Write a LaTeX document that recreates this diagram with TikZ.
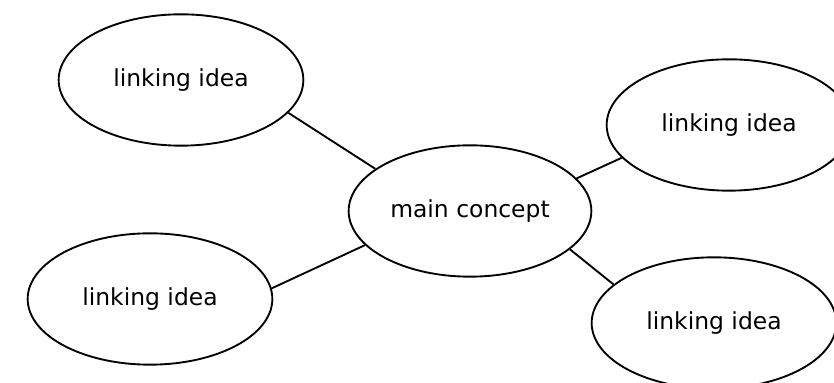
\documentclass[tikz,border=0pt]{standalone}
\usepackage{fontspec}
\setmainfont{DejaVu Sans}
\usetikzlibrary{shapes.geometric}

\begin{document}
\begin{tikzpicture}[x=0.15mm, y=0.15mm, thick,
    idea/.style={ellipse, draw, minimum width=36.7mm, minimum height=19.7mm,
                 inner sep=0pt, font=\fontsize{10}{12}\selectfont}]
  \useasboundingbox (0, 0) rectangle (834, 383);

  % central concept
  \node[idea, minimum width=36.4mm] (main) at (470, 172) {main concept};

  % linking ideas
  \node[idea] (tl) at (181, 303) {linking idea};
  \node[idea] (bl) at (150, 84)  {linking idea};
  \node[idea] (tr) at (729, 258) {linking idea};
  \node[idea] (br) at (714, 60)  {linking idea};

  % connectors
  \draw (tl.-17)  -- (main.156);
  \draw (bl.5)    -- (main.198);
  \draw (tr.197)  -- (main.17);
  \draw (br.159)  -- (main.-21);
\end{tikzpicture}
\end{document}
